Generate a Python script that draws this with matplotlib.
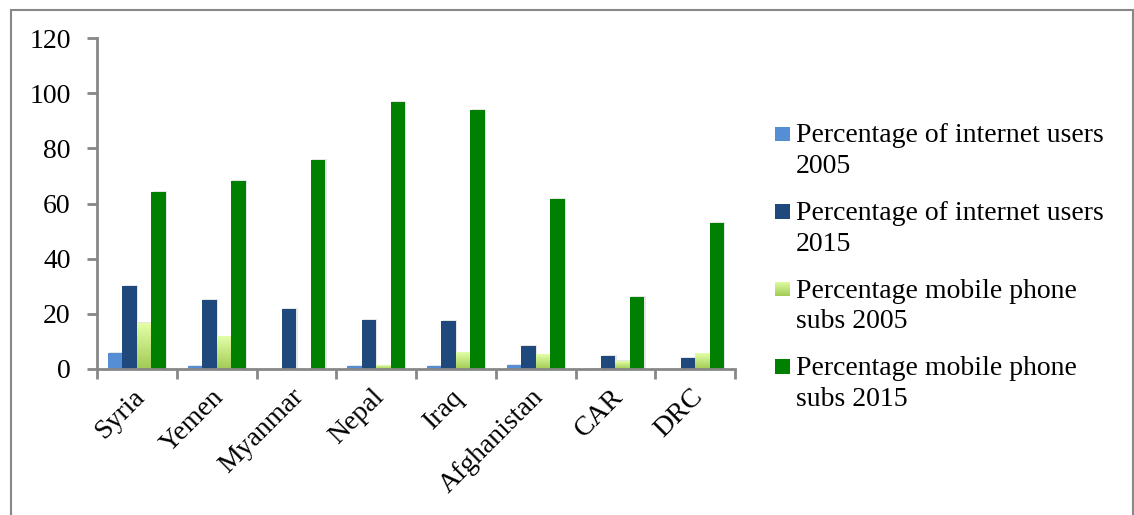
import numpy as np
import matplotlib.pyplot as plt
from matplotlib.patches import Rectangle
from matplotlib.colors import LinearSegmentedColormap
from matplotlib.transforms import ScaledTranslation

countries = ["Syria", "Yemen", "Myanmar", "Nepal", "Iraq", "Afghanistan", "CAR", "DRC"]
internet_2005 = [5.9, 1.1, 0.0, 1.0, 1.1, 1.3, 0.1, 0.0]
internet_2015 = [30.0, 25.0, 21.7, 17.6, 17.3, 8.3, 4.6, 3.9]
mobile_2005 = [16.5, 11.7, 0.0, 1.2, 5.9, 5.1, 2.9, 5.5]
mobile_2015 = [64.3, 68.1, 75.7, 96.7, 93.8, 61.6, 26.0, 53.0]
labels = ["Percentage of internet users\n2005",
          "Percentage of internet users\n2015",
          "Percentage mobile phone\nsubs 2005",
          "Percentage mobile phone\nsubs 2015"]
yticks = [0, 20, 40, 60, 80, 100, 120]

colors = ["#558ED5", "#1F497D", "#C8EE88", "#008000"]
axis_grey = "#878787"
font = "Liberation Serif"
fsize = 20

fig = plt.figure(figsize=(11.34, 5.15), dpi=100)
W, H = 1134, 515
ax = fig.add_axes([97 / W, 1 - 369 / H, (735 - 97) / W, (369 - 38) / H])

x = np.arange(len(countries))
bw = 0.182
offsets = (np.arange(4) - 1.5) * bw
series = [internet_2005, internet_2015, mobile_2005, mobile_2015]

green_fade = LinearSegmentedColormap.from_list("fade", ["#A2CB55", "#E2FFA6"])
grad = np.linspace(0, 1, 64).reshape(-1, 1)

for k, vals in enumerate(series):
    for xi, v in zip(x + offsets[k], vals):
        if v <= 0:
            continue
        # soft drop shadow behind each bar
        ax.add_patch(Rectangle((xi - bw / 2 + 0.015, 0), bw, v + 0.4,
                               facecolor="#000000", alpha=0.10, linewidth=0, zorder=1))
        if k == 2:
            ax.imshow(grad, cmap=green_fade, origin="lower", aspect="auto",
                      extent=(xi - bw / 2, xi + bw / 2, 0, v), zorder=2)
        else:
            ax.bar(xi, v, width=bw, color=colors[k], linewidth=0, zorder=2)

ax.set_xlim(-0.5, len(countries) - 0.5)
ax.set_ylim(0, 120)
ax.set_yticks(yticks)
ax.set_yticklabels([str(t) for t in yticks], fontfamily=font, fontsize=fsize)

ax.set_xticks(np.arange(len(countries) + 1) - 0.5)
ax.set_xticklabels([])
ax.set_xticks(x, minor=True)
ax.set_xticklabels(countries, minor=True, rotation=45, ha="right",
                   rotation_mode="anchor", fontfamily=font, fontsize=fsize)
ax.tick_params(axis="x", which="minor", length=0, pad=6)
ax.tick_params(axis="x", which="major", length=7, width=2, color=axis_grey)
ax.tick_params(axis="y", length=7, width=2, color=axis_grey, pad=12)
shift = ScaledTranslation(-0.05, -0.07, fig.dpi_scale_trans)
for t in ax.get_xticklabels(minor=True):
    t.set_transform(t.get_transform() + shift)

for side in ["top", "right"]:
    ax.spines[side].set_visible(False)
for side in ["left", "bottom"]:
    ax.spines[side].set_color(axis_grey)
    ax.spines[side].set_linewidth(2)

# legend drawn by hand so the swatch sits beside the first line of text
for i, (lab, col) in enumerate(zip(labels, colors)):
    top = 126.5 + i * 77.5
    if i == 2:
        sw = fig.add_axes([775 / W, 1 - (top + 14.5) / H, 15 / W, 14.5 / H])
        sw.imshow(grad, cmap=green_fade, origin="lower", aspect="auto")
        sw.axis("off")
    else:
        fig.add_artist(Rectangle((775 / W, 1 - (top + 14.5) / H), 15 / W, 14.5 / H,
                                 transform=fig.transFigure, facecolor=col, linewidth=0))
    fig.text(796 / W, 1 - (top - 3) / H, lab, ha="left", va="top",
             fontfamily=font, fontsize=fsize, linespacing=1.3)

# outer chart frame
fig.add_artist(Rectangle((11 / W, -0.05), (1133 - 11) / W, 1.05 - 10 / H,
                         transform=fig.transFigure, fill=False,
                         edgecolor=axis_grey, linewidth=1.5))

fig.savefig("out.png", dpi=100)
